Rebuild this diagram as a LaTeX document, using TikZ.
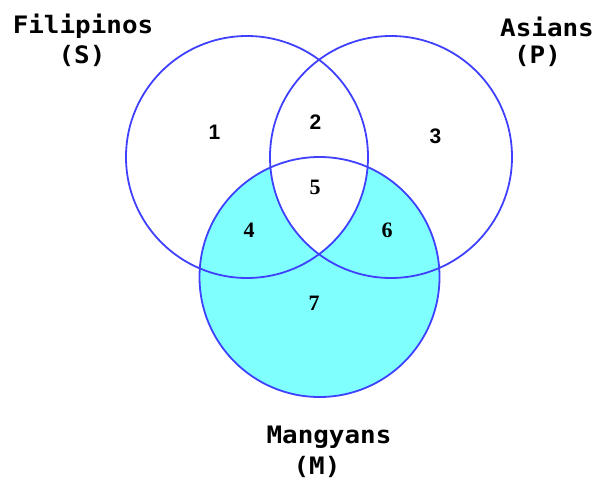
\documentclass[tikz,border=0pt]{standalone}
\usepackage{fontspec}
\newfontfamily\labelfont[FakeStretch=1.08]{DejaVu Sans Mono Bold}
\newfontfamily\sansdigits{Liberation Sans}
\newfontfamily\serifdigits{Liberation Serif}
\definecolor{ringblue}{RGB}{64,64,255}
\definecolor{fillcyan}{RGB}{128,255,255}
\tikzset{
  ring/.style={draw=ringblue, line width=1.8pt},
  setlabel/.style={font=\labelfont\fontsize{24}{24}\selectfont, inner sep=0pt, anchor=base},
  regsans/.style={font=\sansdigits\bfseries\fontsize{21}{21}\selectfont, inner sep=0pt},
  regserif/.style={font=\serifdigits\bfseries\fontsize{22}{22}\selectfont, inner sep=0pt}
}
\begin{document}
\begin{tikzpicture}[x=1pt, y=-1pt]
  \useasboundingbox (0,0) rectangle (597,483);
  % circle centres
  \coordinate (cs) at (247,157);
  \coordinate (cp) at (391,157);
  \coordinate (cm) at (319.5,277);
  % shaded part: M outside the overlap of S and P
  \fill[fillcyan] (cm) circle[radius=120];
  \begin{scope}
    \clip (cs) circle[radius=121];
    \fill[white] (cp) circle[radius=121];
  \end{scope}
  % outlines
  \draw[ring] (cs) circle[radius=121];
  \draw[ring] (cp) circle[radius=121];
  \draw[ring] (cm) circle[radius=120];
  % set names
  \node[setlabel] (sname) at (83,33.3) {Filipinos};
  \node[setlabel] (ssym) at (82,63.5) {(S)};
  \node[setlabel] (pname) at (547,36.5) {Asians};
  \node[setlabel] (psym) at (537.5,63) {(P)};
  \node[setlabel] (mname) at (329,443) {Mangyans};
  \node[setlabel] (msym) at (317,474) {(M)};
  % region numbers
  \node[regsans] (r1) at (214.5,132.5) {1};
  \node[regsans] (r2) at (315.5,122) {2};
  \node[regsans] (r3) at (435.5,136) {3};
  \node[regserif] (r4) at (249,230) {4};
  \node[regserif] (r5) at (315,187.5) {5};
  \node[regserif] (r6) at (387,230) {6};
  \node[regserif] (r7) at (314,303) {7};
\end{tikzpicture}
\end{document}
